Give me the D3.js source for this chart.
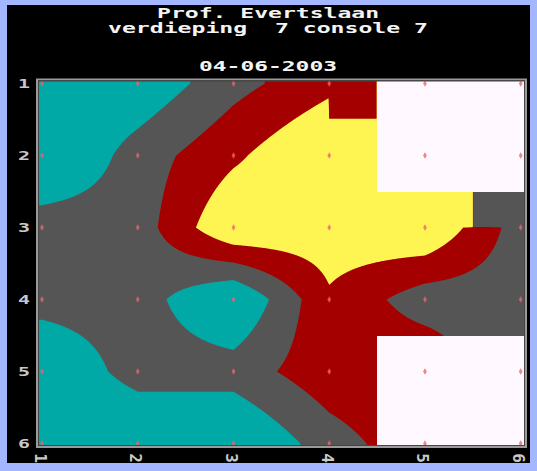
<!DOCTYPE html>
<html>
<head>
<meta charset="utf-8">
<script src="https://cdn.jsdelivr.net/npm/d3@7"></script>
<style>
    html, body { margin: 0; padding: 0; background: #a4b6ff; }
    #chart { position: absolute; left: 0; top: 0; }
</style>
</head>
<body>
<div id="chart"></div>
<script>
// title lines
var titleLines = ["Prof. Evertslaan", "verdieping  7 console 7", "04-06-2003"];

// measuring points (columns and rows of the console grid)
var columns = [1, 2, 3, 4, 5, 6];
var rows = [1, 2, 3, 4, 5, 6];

// values per row (top to bottom), null = no value
var row1 = [0.0, 0.2, 1.66, 2.7, null, null];
var row2 = [-0.34, 1.47, 2.79, 4.2, null, null];
var row3 = [1.6, 1.48, 3.98, 3.6, 4.0, 1.5];
var row4 = [1.41, 1.47, -0.1, 2.85, 1.43, 1.5];
var row5 = [-0.05, 1.47, 1.47, 2.64, 3.0, 0.67];
var row6 = [-0.2, -0.21, -0.21, 1.52, 2.75, 1.5];
var grid = [row1, row2, row3, row4, row5, row6];

// points that are shown blank (white) although they carry a value
var blanked = [[5, 5], [6, 5], [5, 6], [6, 6]];

// class limits and colours
var levels = [1, 2, 3];
var bandColors = ["#00a8a6", "#555555", "#a40000", "#fff552"];
var blankColor = "#fff8ff";

(() => {
    var width = 537;
    var height = 471;

    var svg = d3.select("#chart")
        .append("svg")
        .attr("width", width)
        .attr("height", height);

    // black panel inside the blue border
    svg.append("rect")
        .attr("x", 7)
        .attr("y", 5)
        .attr("width", 523)
        .attr("height", 458)
        .attr("fill", "#000000");

    var xScale = d3.scaleLinear().domain([1, 6]).range([42, 520.7]);
    var yScale = d3.scaleLinear().domain([1, 6]).range([83.5, 443.5]);

    // filled plot area (a little wider than the outer points)
    var x0 = 39, x1 = 524, y0 = 81, y1 = 445;

    function isBlank(c, r) {
        return grid[r - 1][c - 1] === null ||
            blanked.some(function (b) { return b[0] === c && b[1] === r; });
    }

    // value at a position: bilinear inside a cell, nearest point when a corner has no value
    function field(x, y) {
        x = Math.max(1, Math.min(6, x));
        y = Math.max(1, Math.min(6, y));
        var i = Math.min(4, Math.floor(x - 1));
        var j = Math.min(4, Math.floor(y - 1));
        var s = x - 1 - i;
        var t = y - 1 - j;
        var a = grid[j][i], b = grid[j][i + 1], c = grid[j + 1][i], d = grid[j + 1][i + 1];
        if (a === null || b === null || c === null || d === null) {
            var v = grid[t < 0.5 ? j : j + 1][s < 0.5 ? i : i + 1];
            return v === null ? 5 : v;
        }
        return (1 - s) * (1 - t) * a + s * (1 - t) * b + (1 - s) * t * c + s * t * d;
    }

    var w = x1 - x0;
    var h = y1 - y0;
    var values = new Array(w * h);
    for (var py = 0; py < h; py++) {
        for (var px = 0; px < w; px++) {
            values[py * w + px] = field(xScale.invert(x0 + px + 0.5), yScale.invert(y0 + py + 0.5));
        }
    }

    var contours = d3.contours()
        .size([w, h])
        .thresholds(levels)(values);

    var plot = svg.append("g");

    plot.append("rect")
        .attr("x", x0)
        .attr("y", y0)
        .attr("width", w)
        .attr("height", h)
        .attr("fill", bandColors[0]);

    plot.append("g")
        .attr("transform", "translate(" + x0 + "," + y0 + ")")
        .selectAll("path")
        .data(contours)
        .join("path")
        .attr("d", d3.geoPath())
        .attr("fill", function (d, k) { return bandColors[k + 1]; });

    // blank areas: half a cell round each blank point
    var blankPoints = [];
    rows.forEach(function (r) {
        columns.forEach(function (c) {
            if (isBlank(c, r)) blankPoints.push({ c: c, r: r });
        });
    });

    function edge(scale, v, lo, hi) {
        return [v === 1 ? lo : scale(v - 0.5), v === 6 ? hi : scale(v + 0.5)];
    }

    plot.selectAll(".blank")
        .data(blankPoints)
        .join("rect")
        .attr("class", "blank")
        .attr("x", function (d) { return edge(xScale, d.c, x0, x1)[0]; })
        .attr("y", function (d) { return edge(yScale, d.r, y0, y1)[0]; })
        .attr("width", function (d) { var e = edge(xScale, d.c, x0, x1); return e[1] - e[0]; })
        .attr("height", function (d) { var e = edge(yScale, d.r, y0, y1); return e[1] - e[0]; })
        .attr("fill", blankColor)
        .attr("shape-rendering", "crispEdges");

    // measuring points
    var points = [];
    rows.forEach(function (r) {
        columns.forEach(function (c) { points.push({ c: c, r: r }); });
    });

    plot.selectAll(".pt")
        .data(points)
        .join("path")
        .attr("class", "pt")
        .attr("transform", function (d) { return "translate(" + xScale(d.c) + "," + yScale(d.r) + ")"; })
        .attr("d", d3.symbol(d3.symbolDiamond, 12))
        .attr("fill", "#ec6470")
        .attr("opacity", 0.8);

    // frame
    svg.append("rect")
        .attr("x", 37)
        .attr("y", 79.5)
        .attr("width", 489)
        .attr("height", 367.5)
        .attr("fill", "none")
        .attr("stroke", "#9a9a9a")
        .attr("stroke-width", 2);
    svg.append("rect")
        .attr("x", 38.5)
        .attr("y", 81)
        .attr("width", 486)
        .attr("height", 364.5)
        .attr("fill", "none")
        .attr("stroke", "#444444")
        .attr("stroke-width", 1);

    // axis labels
    svg.selectAll(".ylab")
        .data(rows)
        .join("text")
        .attr("class", "ylab")
        .attr("x", 30)
        .attr("y", function (d) { return yScale(d); })
        .attr("text-anchor", "end")
        .attr("dominant-baseline", "central")
        .attr("font-family", "DejaVu Sans Mono")
        .attr("font-weight", "bold")
        .attr("font-size", "13px")
        .attr("textLength", 12)
        .attr("lengthAdjust", "spacingAndGlyphs")
        .attr("fill", "#c8c8c8")
        .text(function (d) { return d; });

    svg.selectAll(".xlab")
        .data(columns)
        .join("text")
        .attr("class", "xlab")
        .attr("transform", function (d) { return "translate(" + (xScale(d) - 2) + ",458) rotate(90)"; })
        .attr("text-anchor", "middle")
        .attr("dominant-baseline", "central")
        .attr("font-family", "DejaVu Sans Mono")
        .attr("font-weight", "bold")
        .attr("font-size", "16px")
        .attr("fill", "#c8c8c8")
        .text(function (d) { return d; });

    // title
    var titleY = [18, 33, 71];
    svg.selectAll(".title")
        .data(titleLines)
        .join("text")
        .attr("class", "title")
        .attr("x", 268)
        .attr("y", function (d, i) { return titleY[i]; })
        .attr("text-anchor", "middle")
        .attr("font-family", "DejaVu Sans Mono")
        .attr("font-weight", "bold")
        .attr("font-size", "14px")
        .attr("textLength", function (d) { return d.length * 14 - 2; })
        .attr("lengthAdjust", "spacingAndGlyphs")
        .attr("fill", "#f4f4f4")
        .attr("xml:space", "preserve")
        .style("white-space", "pre")
        .text(function (d) { return d; });
})();
</script>
</body>
</html>
